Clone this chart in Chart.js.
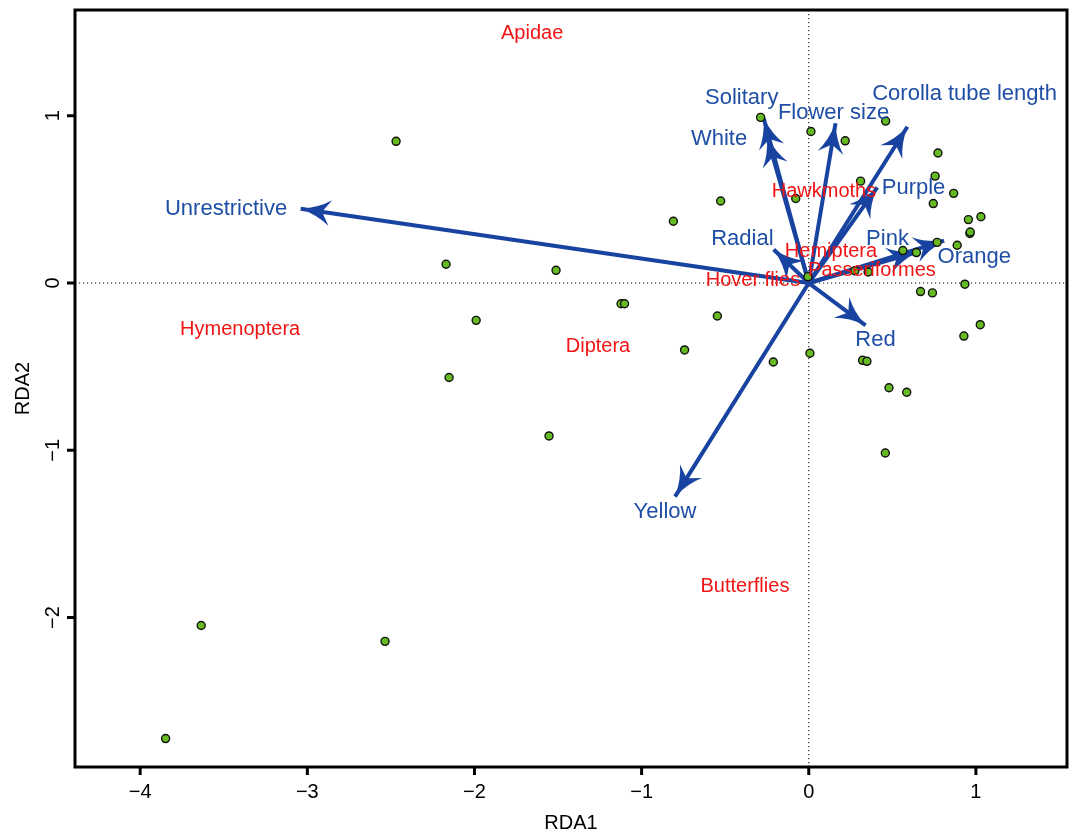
<!DOCTYPE html>
<html>
<head>
<meta charset="utf-8">
<script src="https://cdn.jsdelivr.net/npm/chart.js@4.4.0/dist/chart.umd.min.js"></script>
<style>
    html, body { margin: 0; padding: 0; background: #fff; }
</style>
</head>
<body>
<canvas id="rdaChart" width="1074" height="835"></canvas>
<script>
// Ejes (valores de RDA1 / RDA2)
const xRange = [-4.39, 1.545];
const yRange = [-2.893, 1.632];
const xTicks = [-4, -3, -2, -1, 0, 1];
const yTicks = [-2, -1, 0, 1];

// Sitios (puntos verdes)
const siteX = [-2.469, -2.170, -1.512, -1.990, -2.152, -1.123, -1.102, -1.554, -0.810, -0.527,
    -0.547, -0.743, -0.212, 0.007, -0.288, 0.013, 0.218, 0.460, -0.078, 0.310,
    0.773, 0.756, 0.867, 0.745, 0.955, 1.030, 0.964, 0.966, 0.563, 0.644,
    0.768, 0.888, 0.276, 0.355, -0.005, 0.934, 0.669, 0.740, 1.026, 0.928,
    0.322, 0.348, 0.480, 0.586, 0.458, -3.635, -2.535, -3.848];
const siteY = [0.847, 0.112, 0.076, -0.223, -0.565, -0.124, -0.124, -0.914, 0.369, 0.490,
    -0.197, -0.400, -0.472, -0.420, 0.990, 0.906, 0.850, 0.968, 0.505, 0.609,
    0.777, 0.639, 0.536, 0.475, 0.379, 0.396, 0.296, 0.305, 0.194, 0.182,
    0.243, 0.226, 0.073, 0.066, 0.038, -0.007, -0.051, -0.059, -0.249, -0.317,
    -0.462, -0.468, -0.626, -0.653, -1.016, -2.047, -2.142, -2.723];

// Variables explicativas (flechas azules)
const arrowNames = ['Unrestrictive', 'Solitary', 'White', 'Flower size', 'Corolla tube length',
    'Purple', 'Radial', 'Pink', 'Orange', 'Red', 'Yellow'];
const arrowX = [-3.04, -0.27, -0.25, 0.16, 0.59, 0.41, -0.21, 0.81, 0.65, 0.34, -0.80];
const arrowY = [0.444, 0.986, 0.878, 0.955, 0.934, 0.572, 0.20, 0.253, 0.185, -0.253, -1.277];
const arrowLabelX = [-3.486, -0.401, -0.537, 0.148, 0.932, 0.627, -0.397, 0.471, 0.990, 0.399, -0.860];
const arrowLabelY = [0.444, 1.104, 0.859, 1.014, 1.128, 0.570, 0.263, 0.263, 0.157, -0.341, -1.367];

// Grupos de polinizadores (texto rojo)
const groupNames = ['Apidae', 'Hymenoptera', 'Diptera', 'Hawkmoths', 'Hemiptera', 'Passeriformes', 'Hover flies', 'Butterflies'];
const groupX = [-1.655, -3.402, -1.261, 0.091, 0.133, 0.378, -0.334, -0.382];
const groupY = [1.494, -0.275, -0.382, 0.546, 0.187, 0.073, 0.018, -1.811];

const FONT = '"Liberation Sans", Arial, Helvetica, sans-serif';
const ARROW_COLOR = '#1843a0';
const LABEL_BLUE = '#1f4ea5';
const LABEL_RED = '#f01414';

function minus(v) {
    return String(v).replace('-', '\u2212');
}

// Flechas: una línea por variable, desde el origen
const arrowDatasets = arrowNames.map((name, i) => ({
    label: name,
    isArrow: true,
    data: [{ x: 0, y: 0 }, { x: arrowX[i], y: arrowY[i] }],
    showLine: true,
    borderColor: ARROW_COLOR,
    borderWidth: 4,
    pointRadius: 0,
    order: 1
}));

const sitesDataset = {
    label: 'Sites',
    data: siteX.map((x, i) => ({ x: x, y: siteY[i] })),
    pointRadius: 4,
    pointBackgroundColor: '#66bb22',
    pointBorderColor: '#111',
    pointBorderWidth: 1.4,
    showLine: false,
    order: 0
};

const rdaPlugin = {
    id: 'rdaPlugin',
    beforeDatasetsDraw(chart) {
        const { ctx, chartArea: a, scales: { x, y } } = chart;
        const x0 = x.getPixelForValue(0);
        const y0 = y.getPixelForValue(0);
        ctx.save();
        ctx.strokeStyle = '#000';
        ctx.lineWidth = 1;
        ctx.setLineDash([1.2, 2.8]);
        ctx.beginPath();
        ctx.moveTo(x0, a.top);
        ctx.lineTo(x0, a.bottom);
        ctx.moveTo(a.left, y0);
        ctx.lineTo(a.right, y0);
        ctx.stroke();
        ctx.restore();
    },
    afterDatasetDraw(chart, args) {
        const ds = chart.data.datasets[args.index];
        if (!ds.isArrow) return;
        const { ctx, scales: { x, y } } = chart;
        const ox = x.getPixelForValue(ds.data[0].x), oy = y.getPixelForValue(ds.data[0].y);
        const tx = x.getPixelForValue(ds.data[1].x), ty = y.getPixelForValue(ds.data[1].y);
        const len = Math.hypot(tx - ox, ty - oy);
        const dx = (tx - ox) / len, dy = (ty - oy) / len;
        const nx = -dy, ny = dx;
        const L = 30, W = 13;
        ctx.save();
        ctx.fillStyle = ARROW_COLOR;
        ctx.beginPath();
        ctx.moveTo(tx, ty);
        ctx.quadraticCurveTo(tx - dx * L * 0.6 + nx * W * 0.3, ty - dy * L * 0.6 + ny * W * 0.3,
            tx - dx * L + nx * W, ty - dy * L + ny * W);
        ctx.lineTo(tx - dx * L * 0.72, ty - dy * L * 0.72);
        ctx.lineTo(tx - dx * L - nx * W, ty - dy * L - ny * W);
        ctx.quadraticCurveTo(tx - dx * L * 0.6 - nx * W * 0.3, ty - dy * L * 0.6 - ny * W * 0.3, tx, ty);
        ctx.fill();
        ctx.restore();
    },
    afterDraw(chart) {
        const { ctx, chartArea: a, scales: { x, y } } = chart;
        ctx.save();

        // Etiquetas de texto
        ctx.textAlign = 'center';
        ctx.textBaseline = 'middle';
        ctx.font = '20px ' + FONT;
        ctx.fillStyle = LABEL_RED;
        groupNames.forEach((name, i) => {
            ctx.fillText(name, x.getPixelForValue(groupX[i]), y.getPixelForValue(groupY[i]));
        });
        ctx.font = '22px ' + FONT;
        ctx.fillStyle = LABEL_BLUE;
        arrowNames.forEach((name, i) => {
            ctx.fillText(name, x.getPixelForValue(arrowLabelX[i]), y.getPixelForValue(arrowLabelY[i]));
        });

        // Marco
        ctx.strokeStyle = '#000';
        ctx.lineWidth = 3;
        ctx.strokeRect(a.left, a.top, a.right - a.left, a.bottom - a.top);

        // Marcas y etiquetas de los ejes
        ctx.fillStyle = '#000';
        ctx.font = '20px ' + FONT;
        ctx.textBaseline = 'alphabetic';
        ctx.beginPath();
        xTicks.forEach(t => {
            const px = x.getPixelForValue(t);
            ctx.moveTo(px, a.bottom);
            ctx.lineTo(px, a.bottom + 8);
            ctx.fillText(minus(t), px, a.bottom + 31);
        });
        yTicks.forEach(t => {
            const py = y.getPixelForValue(t);
            ctx.moveTo(a.left, py);
            ctx.lineTo(a.left - 8, py);
            ctx.save();
            ctx.translate(a.left - 16, py);
            ctx.rotate(-Math.PI / 2);
            ctx.fillText(minus(t), 0, 0);
            ctx.restore();
        });
        ctx.stroke();

        // Títulos
        ctx.fillText('RDA1', (a.left + a.right) / 2, a.bottom + 62);
        ctx.save();
        ctx.translate(a.left - 46, (a.top + a.bottom) / 2);
        ctx.rotate(-Math.PI / 2);
        ctx.fillText('RDA2', 0, 0);
        ctx.restore();

        ctx.restore();
    }
};

new Chart(document.getElementById('rdaChart').getContext('2d'), {
    type: 'scatter',
    data: { datasets: [sitesDataset, ...arrowDatasets] },
    options: {
        responsive: false,
        animation: false,
        layout: { padding: { left: 75, right: 7, top: 10, bottom: 68 } },
        plugins: { legend: { display: false }, tooltip: { enabled: false } },
        scales: {
            x: { type: 'linear', display: false, min: xRange[0], max: xRange[1] },
            y: { type: 'linear', display: false, min: yRange[0], max: yRange[1] }
        }
    },
    plugins: [rdaPlugin]
});
</script>
</body>
</html>
